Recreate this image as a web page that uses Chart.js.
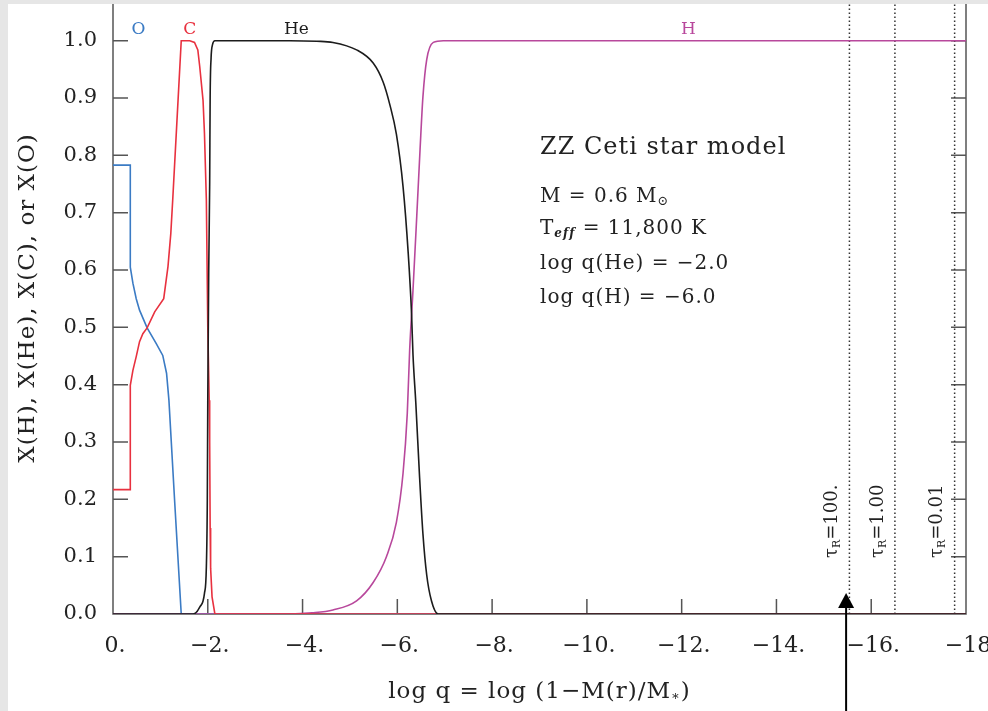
<!DOCTYPE html>
<html>
<head>
<meta charset="utf-8">
<script src="https://cdn.jsdelivr.net/npm/chart.js@4.4.0/dist/chart.umd.min.js"></script>
<style>
  html, body { margin: 0; padding: 0; background: #e6e6e6; overflow: hidden; width: 988px; height: 711px; }
  #wrap { position: absolute; left: 8px; top: 4px; width: 1010px; height: 707px; background: #fff; }
</style>
</head>
<body>
<div id="wrap"><canvas id="myChart" width="1010" height="707"></canvas></div>
<script>
// abundance profiles: x = log q, value = mass fraction
const logqO = [0, -0.365, -0.365, -0.42, -0.49, -0.56, -0.72, -0.91, -1.05, -1.13, -1.18, -1.30, -1.44, -18];
const xO    = [0.783, 0.783, 0.605, 0.577, 0.55, 0.53, 0.499, 0.472, 0.451, 0.42, 0.373, 0.198, 0, 0];

const logqC = [0, -0.365, -0.365, -0.42, -0.49, -0.56, -0.63, -0.72, -0.88, -1.07, -1.16, -1.22, -1.26, -1.35, -1.44, -1.62,
               -1.72, -1.79, -1.83, -1.90, -1.93, -1.97, -2.00, -2.03, -2.04, -2.05, -2.06, -2.09, -2.15, -18];
const xC    = [0.217, 0.217, 0.399, 0.425, 0.449, 0.475, 0.489, 0.499, 0.527, 0.55, 0.606, 0.664, 0.722, 0.861, 1.0, 1.0,
               0.997, 0.984, 0.955, 0.896, 0.838, 0.722, 0.5, 0.373, 0.3, 0.15, 0.08, 0.03, 0, 0];

const logqHe = [0, -1.69, -1.83, -1.93, -1.97, -1.99, -2.00, -2.02, -2.04, -2.05, -2.07, -2.10, -2.15, -3.73, -4.3, -4.64,
                -5.14, -5.49, -5.70, -5.84, -5.98, -6.12, -6.23, -6.30, -6.33, -6.39, -6.47, -6.54, -6.62, -6.72, -6.86, -18];
const xHe    = [0, 0, 0.012, 0.036, 0.082, 0.198, 0.373, 0.6, 0.75, 0.9, 0.97, 0.993, 1.0, 1.0, 0.999, 0.997,
                0.984, 0.961, 0.928, 0.889, 0.837, 0.746, 0.629, 0.524, 0.453, 0.368, 0.238, 0.14, 0.068, 0.023, 0, 0];

const logqH = [0, -3.73, -4.2, -4.64, -5.14, -5.49, -5.77, -5.98, -6.12, -6.21, -6.26, -6.33, -6.41, -6.48, -6.54, -6.62, -6.76, -6.97, -18];
const xH    = [0, 0, 0.002, 0.007, 0.023, 0.055, 0.1, 0.16, 0.245, 0.35, 0.46, 0.564, 0.694, 0.811, 0.902, 0.967, 0.997, 1.0, 1.0];

// optical depth markers
const tauLogq   = [-15.54, -16.50, -17.76];
const tauLabels = ['100.', '1.00', '0.01'];
const arrowLogq = -15.47;

const xTickVals = [0, -2, -4, -6, -8, -10, -12, -14, -16, -18];
const yTickVals = [0, 0.1, 0.2, 0.3, 0.4, 0.5, 0.6, 0.7, 0.8, 0.9, 1.0];

const speciesNames = ['O', 'C', 'He', 'H'];
const speciesColors = ['#3b7bc4', '#e8313f', '#1c1c1c', '#b8489c'];
const speciesLabelLogq = [-0.54, -1.62, -3.87, -12.14];

const SERIF = '"DejaVu Serif"';
const pts = (xs, ys) => xs.map((v, i) => ({ x: v, y: ys[i] }));

const profileSets = [
    { label: 'He', data: pts(logqHe, xHe), borderColor: speciesColors[2], cubicInterpolationMode: 'monotone' },
    { label: 'C', data: pts(logqC, xC), borderColor: speciesColors[1] },
    { label: 'H', data: pts(logqH, xH), borderColor: speciesColors[3], cubicInterpolationMode: 'monotone' },
    { label: 'O', data: pts(logqO, xO), borderColor: speciesColors[0] },
];
profileSets.forEach(d => { d.borderWidth = 1.6; });

const tauSets = tauLogq.map(t => ({
    label: 'tau',
    data: [{ x: t, y: 0 }, { x: t, y: 1.064 }],
    borderColor: '#333',
    borderWidth: 1.5,
    borderDash: [1.5, 2.5],
}));

function richText(ctx, x, y, parts) {
    parts.forEach(p => {
        ctx.font = p.font;
        ctx.fillText(p.t, x, y + (p.dy || 0));
        x += ctx.measureText(p.t).width;
    });
}
function richWidth(ctx, parts) {
    let w = 0;
    parts.forEach(p => { ctx.font = p.font; w += ctx.measureText(p.t).width; });
    return w;
}

const frame = {
    id: 'frame',
    beforeDatasetsDraw(chart) {
        const { ctx, chartArea: a, scales: { x, y } } = chart;
        ctx.save();
        ctx.strokeStyle = '#555';
        ctx.lineWidth = 1.5;
        ctx.beginPath();
        ctx.moveTo(a.left, a.top); ctx.lineTo(a.left, a.bottom); ctx.lineTo(a.right, a.bottom); ctx.lineTo(a.right, a.top);
        yTickVals.forEach(v => {
            const py = y.getPixelForValue(v);
            ctx.moveTo(a.left, py); ctx.lineTo(a.left + 15, py);
            ctx.moveTo(a.right - 15, py); ctx.lineTo(a.right, py);
        });
        xTickVals.forEach(v => {
            const px = x.getPixelForValue(v);
            ctx.moveTo(px, a.bottom); ctx.lineTo(px, a.bottom - 15);
        });
        ctx.stroke();
        ctx.restore();
    },
    afterDraw(chart) {
        const { ctx, chartArea: a, scales: { x, y } } = chart;
        ctx.save();
        ctx.textBaseline = 'middle';

        // species labels along the top
        ctx.textAlign = 'center';
        ctx.font = '17px ' + SERIF;
        speciesNames.forEach((n, i) => {
            ctx.fillStyle = speciesColors[i];
            ctx.fillText(n, x.getPixelForValue(speciesLabelLogq[i]), y.getPixelForValue(1.02));
        });

        // model description
        ctx.fillStyle = '#222';
        ctx.textAlign = 'left';
        ctx.letterSpacing = '1px';
        const f20 = '20px ' + SERIF;
        richText(ctx, 532, 144, [{ t: 'ZZ Ceti star model', font: '24px ' + SERIF }]);
        richText(ctx, 532, 193, [{ t: 'M = 0.6 M', font: f20 }, { t: '⊙', font: '13px ' + SERIF, dy: 5 }]);
        richText(ctx, 532, 225, [{ t: 'T', font: f20 }, { t: 'eff', font: 'italic bold 12px ' + SERIF, dy: 5 }, { t: ' = 11,800 K', font: f20 }]);
        richText(ctx, 532, 260, [{ t: 'log q(He) = −2.0', font: f20 }]);
        richText(ctx, 532, 294, [{ t: 'log q(H) = −6.0', font: f20 }]);

        // x axis title
        const xt = [{ t: 'log q = log (1−M(r)/M', font: '23px ' + SERIF }, { t: '∗', font: '13px ' + SERIF, dy: 5 }, { t: ')', font: '23px ' + SERIF }];
        const w = richWidth(ctx, xt);
        richText(ctx, (a.left + a.right) / 2 - w / 2, 688, xt);

        // y axis title
        ctx.save();
        ctx.translate(20, 294);
        ctx.rotate(-Math.PI / 2);
        ctx.textAlign = 'center';
        ctx.font = '23px ' + SERIF;
        ctx.fillText('X(H), X(He), X(C), or X(O)', 0, 0);
        ctx.restore();

        // optical depth labels
        ctx.letterSpacing = '0px';
        tauLogq.forEach((t, i) => {
            const px = x.getPixelForValue(t);
            ctx.save();
            ctx.translate(px - 17, 554);
            ctx.rotate(-Math.PI / 2);
            ctx.textAlign = 'left';
            richText(ctx, 0, 0, [{ t: 'τ', font: '18px ' + SERIF }, { t: 'R', font: '11px ' + SERIF, dy: 5 }, { t: '=' + tauLabels[i], font: '18px ' + SERIF }]);
            ctx.restore();
        });

        // arrow pointing at tau = 100
        const ax = x.getPixelForValue(arrowLogq);
        ctx.fillStyle = '#000';
        ctx.strokeStyle = '#000';
        ctx.lineWidth = 2;
        ctx.beginPath();
        ctx.moveTo(ax, 604); ctx.lineTo(ax, 707);
        ctx.stroke();
        ctx.beginPath();
        ctx.moveTo(ax, 589); ctx.lineTo(ax - 8, 604); ctx.lineTo(ax + 8, 604); ctx.closePath();
        ctx.fill();
        ctx.restore();
    }
};

const ctx = document.getElementById('myChart');
const chartProfile = new Chart(ctx, {
    type: 'line',
    data: { datasets: [...profileSets, ...tauSets] },
    options: {
        responsive: false,
        animation: false,
        layout: { autoPadding: false, padding: { top: 0, right: 52, left: 0, bottom: 0 } },
        plugins: { legend: { display: false }, tooltip: { enabled: false } },
        elements: { point: { radius: 0 }, line: { tension: 0 } },
        scales: {
            x: {
                type: 'linear',
                reverse: true,
                min: -18,
                max: 0,
                afterBuildTicks: s => { s.ticks = xTickVals.map(v => ({ value: v })); },
                afterFit: s => { s.height = 97; s.paddingLeft = 0; s.paddingRight = 0; },
                grid: { display: false, drawTicks: false },
                border: { display: false },
                ticks: {
                    padding: 19,
                    labelOffset: 2,
                    autoSkip: false,
                    maxRotation: 0,
                    color: '#222',
                    font: { family: 'DejaVu Serif', size: 22 },
                    callback: v => v === 0 ? '0.' : (v === -18 ? '−18' : '−' + Math.abs(v) + '.'),
                },
            },
            y: {
                type: 'linear',
                min: 0,
                max: 1.064,
                afterBuildTicks: s => { s.ticks = yTickVals.map(v => ({ value: v })); },
                afterFit: s => { s.width = 105; s.paddingTop = 0; s.paddingBottom = 0; },
                grid: { display: false, drawTicks: false },
                border: { display: false },
                ticks: {
                    padding: 16,
                    color: '#222',
                    font: { family: 'DejaVu Serif', size: 21 },
                    callback: v => v.toFixed(1),
                },
            },
        },
    },
    plugins: [frame],
});
</script>
</body>
</html>
